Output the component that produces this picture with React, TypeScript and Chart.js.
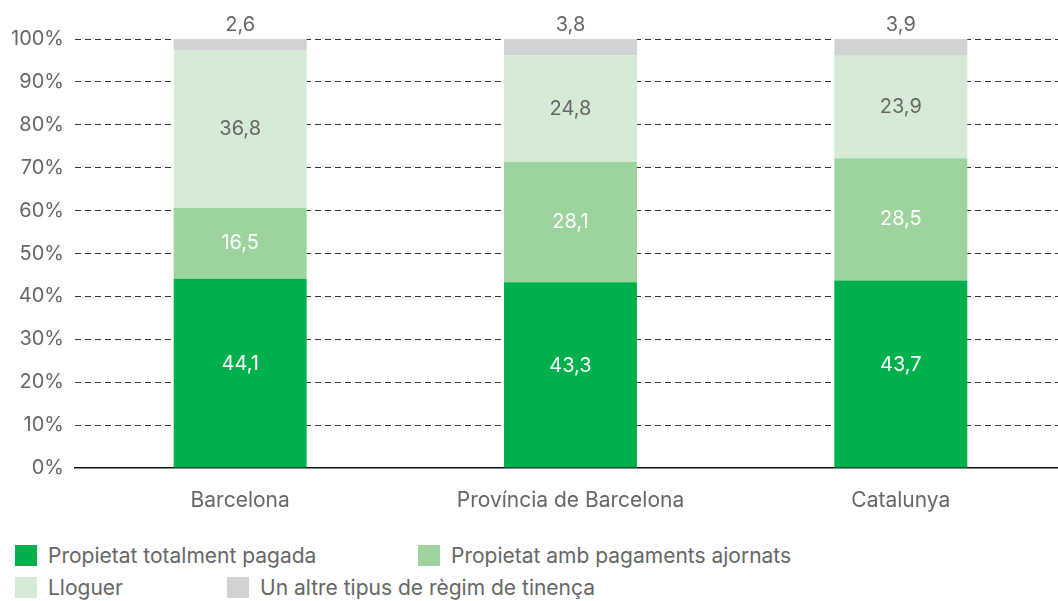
import React, { useEffect, useRef } from "react";
import { Chart, registerables } from "chart.js";

Chart.register(...registerables);

const categories = ["Barcelona", "Província de Barcelona", "Catalunya"];
const seriesNames = [
  "Propietat totalment pagada",
  "Propietat amb pagaments ajornats",
  "Lloguer",
  "Un altre tipus de règim de tinença",
];
const totalmentPagada = [44.1, 43.3, 43.7];
const pagamentsAjornats = [16.5, 28.1, 28.5];
const lloguer = [36.8, 24.8, 23.9];
const altre = [2.6, 3.8, 3.9];
const yTicks = [0, 10, 20, 30, 40, 50, 60, 70, 80, 90, 100];

const colors = ["#00b04d", "#9dd39d", "#d5ebd5", "#d1d2d4"];
const labelColors = ["#ffffff", "#ffffff", "#666666", "#666666"];
const FONT = "Inter";
const legendRows = [
  [
    { i: 0, left: 15 },
    { i: 1, left: 418 },
  ],
  [
    { i: 2, left: 15 },
    { i: 3, left: 227 },
  ],
];

const fmt = (v: number) => v.toFixed(1).replace(".", ",");

const labelPlugin = {
  id: "barLabels",
  afterDatasetsDraw(chart: any) {
    const ctx = chart.ctx;
    const n = chart.data.datasets.length;
    ctx.save();
    ctx.font = `20px ${FONT}`;
    ctx.textAlign = "center";
    chart.data.datasets.forEach((ds: any, di: number) => {
      const meta = chart.getDatasetMeta(di);
      meta.data.forEach((bar: any, j: number) => {
        const v = ds.data[j];
        ctx.fillStyle = labelColors[di];
        if (di === n - 1) {
          ctx.textBaseline = "alphabetic";
          ctx.fillText(fmt(v), bar.x, bar.y - 8);
        } else {
          ctx.textBaseline = "middle";
          const mid = (bar.y + bar.base) / 2 + (di === 0 ? -9 : 0);
          ctx.fillText(fmt(v), bar.x, mid);
        }
      });
    });
    ctx.restore();
  },
};

export default function App() {
  const ref = useRef<HTMLCanvasElement>(null);
  useEffect(() => {
    if (!ref.current) return;
    const series = [totalmentPagada, pagamentsAjornats, lloguer, altre];
    const chart = new Chart(ref.current, {
      type: "bar",
      data: {
        labels: categories,
        datasets: series.map((d, i) => ({
          label: seriesNames[i],
          data: d,
          backgroundColor: colors[i],
          borderWidth: 0,
          categoryPercentage: 1,
          barPercentage: 0.4025,
        })),
      },
      options: {
        responsive: false,
        animation: false,
        devicePixelRatio: 1,
        layout: { padding: { top: 39, left: 0, right: 0, bottom: 0 } },
        plugins: {
          legend: { display: false },
          tooltip: { enabled: false },
        },
        scales: {
          x: {
            stacked: true,
            grid: { display: false, drawTicks: false },
            border: { display: true, color: "#111111", width: 1.5 },
            ticks: {
              color: "#666666",
              font: { family: FONT, size: 21 },
              padding: 20,
            },
            afterFit: (s: any) => {
              s.height = 62;
            },
          },
          y: {
            stacked: true,
            min: 0,
            max: 100,
            afterBuildTicks: (s: any) => {
              s.ticks = yTicks.map((v) => ({ value: v }));
            },
            grid: {
              drawTicks: false,
              color: (c: any) => (c.tick && c.tick.value === 0 ? "rgba(0,0,0,0)" : "#333333"),
              lineWidth: 1,
            },
            border: { display: false, dash: [6, 4] },
            ticks: {
              color: "#666666",
              font: { family: FONT, size: 20 },
              padding: 11,
              callback: (v: any) => v + "%",
            },
            afterFit: (s: any) => {
              s.width = 75;
            },
          },
        },
      },
      plugins: [labelPlugin],
    });
    return () => chart.destroy();
  }, []);

  return (
    <div
      style={{
        position: "fixed",
        left: 0,
        top: 0,
        width: 1058,
        height: 601,
        overflow: "hidden",
        background: "#ffffff",
        fontFamily: FONT,
      }}
    >
      <canvas
        ref={ref}
        width={1066}
        height={530}
        style={{ position: "absolute", left: 0, top: 0, width: 1066, height: 530 }}
      />
      {legendRows.map((row, r) =>
        row.map((it) => (
          <div
            key={it.i}
            style={{
              position: "absolute",
              left: it.left,
              top: 545 + r * 32,
              height: 21,
              display: "flex",
              alignItems: "center",
              whiteSpace: "nowrap",
            }}
          >
            <span
              style={{
                display: "inline-block",
                width: 22,
                height: 21,
                background: colors[it.i],
                marginRight: 11,
              }}
            />
            <span style={{ fontSize: 21, color: "#666666" }}>{seriesNames[it.i]}</span>
          </div>
        ))
      )}
    </div>
  );
}
